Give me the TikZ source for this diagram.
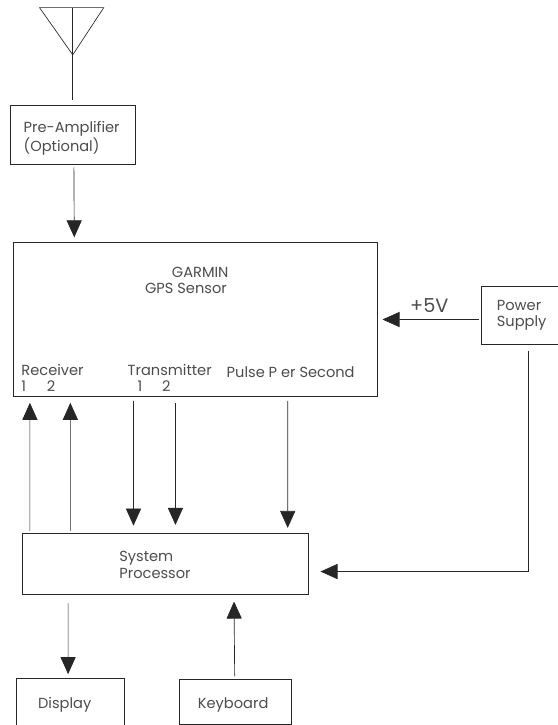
\documentclass[tikz,border=0pt]{standalone}
\usepackage{fontspec}
\setmainfont{Poppins}
\usetikzlibrary{positioning, arrows.meta}

\begin{document}
\begin{tikzpicture}[
    blockbox/.style={
        draw,
        rectangle,
        black!85,
        line width=0.5pt,
        inner sep=0pt
    },
    sig/.style={
        -{Triangle[length=0.45cm,width=0.4cm]},
        black!85,
        line width=0.5pt
    },
    wire/.style={
        black!85,
        line width=0.5pt
    },
    lbl/.style={
        align=left,
        inner sep=0pt,
        text=black!70,
        font=\fontsize{11}{12.1}\selectfont
    }
]
    \useasboundingbox (0,0) rectangle (14.74,-19.18);

    % Boxes
    \node[blockbox, minimum width=3.29cm, minimum height=1.56cm] (preamp) at (1.925,-3.56) {};
    \node[blockbox, minimum width=9.63cm, minimum height=4.07cm, below right=2.06cm and 0.07cm of preamp.south west] (gps) {};
    \node[blockbox, minimum width=7.57cm, minimum height=1.61cm, below right=3.60cm and 0.24cm of gps.south west] (proc) {};
    \node[blockbox, minimum width=2.86cm, minimum height=1.60cm, below right=2.22cm and -0.16cm of proc.south west] (display) {};
    \node[blockbox, minimum width=2.96cm, minimum height=1.19cm, below right=0.03cm and 1.43cm of display.north east] (keyboard) {};
    \node[blockbox, minimum width=2.2cm, minimum height=1.53cm, below right=1.16cm and 2.73cm of gps.north east] (power) {};

    % Labels
    \node[lbl, below right=0.43cm and 0.35cm of preamp.north west] (preamptxt) {Pre-Amplifier\\(Optional)};
    \node[lbl, below right=0.65cm and 3.49cm of gps.north west] (gpstxt) {\hspace*{0.71cm}GARMIN\\GPS Sensor};
    \node[lbl, above right=0.14cm and 0.22cm of gps.south west] (rxtxt) {Receiver\\1\hspace{0.55cm}2};
    \node[lbl, above right=0.14cm and 3.03cm of gps.south west] (txtxt) {Transmitter\\\hspace*{0.26cm}1\hspace{0.53cm}2};
    \node[lbl, above right=0.50cm and 5.65cm of gps.south west] (ppstxt) {Pulse P er Second};
    \node[lbl, below right=0.49cm and 2.57cm of proc.north west] (proctxt) {System\\Processor};
    \node[lbl, below right=0.50cm and 0.58cm of display.north west] (disptxt) {Display};
    \node[lbl, below right=0.48cm and 0.50cm of keyboard.north west] (keytxt) {Keyboard};
    \node[lbl, below right=0.36cm and 0.42cm of power.north west] (powertxt) {Power\\Supply};
    \node[lbl, font=\fontsize{14.5}{15}\selectfont, above left=0.08cm and 0.85cm of power.west] (fivev) {+5V};

    % Antenna
    \coordinate[above=2.57cm of preamp.north] (mast);
    \coordinate[above=1.32cm of preamp.north] (tip);
    \draw[wire] ([xshift=-0.88cm]mast) -- (tip) -- ([xshift=0.82cm]mast) -- cycle;
    \draw[wire] (mast) -- ([yshift=0.13cm]preamp.north);

    % Signals
    \draw[sig] ([xshift=0.03cm,yshift=-0.08cm]preamp.south) -- ([xshift=-3.2cm,yshift=0.13cm]gps.north);
    \draw[sig] ([xshift=0.21cm,yshift=0.05cm]proc.north west) -- ([xshift=0.45cm,yshift=-0.16cm]gps.south west);
    \draw[sig] ([xshift=1.28cm,yshift=0.05cm]proc.north west) -- ([xshift=1.52cm,yshift=-0.16cm]gps.south west);
    \draw[sig] ([xshift=3.19cm,yshift=-0.11cm]gps.south west) -- ([xshift=2.95cm,yshift=0.19cm]proc.north west);
    \draw[sig] ([xshift=4.30cm,yshift=-0.16cm]gps.south west) -- ([xshift=4.06cm,yshift=0.21cm]proc.north west);
    \draw[sig] ([xshift=7.27cm,yshift=-0.11cm]gps.south west) -- ([xshift=7.03cm,yshift=0.13cm]proc.north west);
    \draw[sig] ([xshift=1.22cm,yshift=-0.24cm]proc.south west) -- ([xshift=1.38cm,yshift=0.11cm]display.north west);
    \draw[sig] ([xshift=1.48cm,yshift=0.08cm]keyboard.north west) -- ([xshift=5.61cm,yshift=-0.19cm]proc.south west);
    \draw[sig] ([xshift=-0.05cm,yshift=-0.11cm]power.west) -- ([xshift=0.13cm]gps.east);

    % Supply line
    \coordinate[below right=0.16cm and 1.27cm of power.south west] (drop);
    \draw[sig] (drop) |- ([xshift=0.31cm,yshift=-0.21cm]proc.east);
\end{tikzpicture}
\end{document}
